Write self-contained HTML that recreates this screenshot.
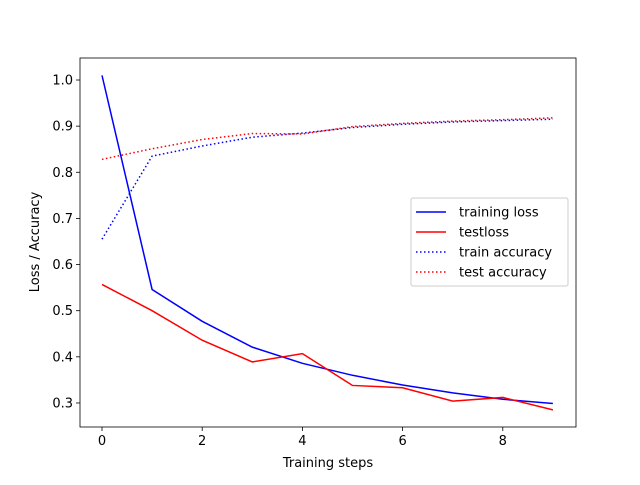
<!DOCTYPE html>
<html><head><meta charset="utf-8"><style>
body{margin:0;background:#fff;}
svg text{font-family:"DejaVu Sans","Liberation Sans",sans-serif;font-size:13px;fill:#000;}
</style></head><body>
<svg id="chart" width="640" height="480" xmlns="http://www.w3.org/2000/svg">
<rect width="640" height="480" fill="#fff"/>
<g id="plot"></g>
</svg>
<script>
const steps=[0,1,2,3,4,5,6,7,8,9];
const trainLoss=[1.01,0.546,0.477,0.421,0.386,0.36,0.339,0.322,0.308,0.299];
const testLoss=[0.557,0.50,0.436,0.389,0.407,0.338,0.333,0.304,0.312,0.285];
const trainAcc=[0.655,0.835,0.857,0.876,0.885,0.897,0.904,0.909,0.912,0.915];
const testAcc=[0.828,0.851,0.871,0.884,0.883,0.899,0.906,0.911,0.914,0.918];
const xTicks=[0,2,4,6,8];
const yTicks=[0.3,0.4,0.5,0.6,0.7,0.8,0.9,1.0];
const seriesNames=["training loss","testloss","train accuracy","test accuracy"];

const NS="http://www.w3.org/2000/svg";
const g=document.getElementById('plot');
const L=80,R=576,T=58,B=427;
function xs(v){return 102+v*50.1;}
function ys(v){return 80+(1.0-v)*461.4;}
function el(tag,attrs,parent){const e=document.createElementNS(NS,tag);for(const k in attrs)e.setAttribute(k,attrs[k]);(parent||g).appendChild(e);return e;}

xTicks.forEach(t=>{
  const tk=el('line',{x1:xs(t),x2:xs(t),y1:B,y2:B+4,stroke:'#000','stroke-width':0.8});
  
  
  const tx=el('text',{x:xs(t),y:B+18,'text-anchor':'middle'});
  tx.textContent=t;
  
  
});
yTicks.forEach(t=>{
  const tk=el('line',{x1:L-4,x2:L,y1:ys(t),y2:ys(t),stroke:'#000','stroke-width':0.8});
  
  
  const tx=el('text',{x:L-7,y:ys(t)+4.5,'text-anchor':'end'});
  tx.textContent=t.toFixed(1);
  
  
});

const series=[[trainLoss,'#0000ff',''],[testLoss,'#ff0000',''],[trainAcc,'#0000ff','1.5,2.5'],[testAcc,'#ff0000','1.5,2.5']];
series.forEach((s,i)=>{
  const p=el('polyline',{points:steps.map((x,j)=>xs(x)+','+ys(s[0][j])).join(' '),fill:'none',stroke:s[1],'stroke-width':1.5,'stroke-dasharray':s[2]});
  
  
});

const frame=el('rect',{x:L,y:T,width:R-L,height:B-T,fill:'none',stroke:'#000','stroke-width':0.8});



const xt=el('text',{x:328,y:467,'text-anchor':'middle'});xt.textContent='Training steps';


const yt=el('text',{x:0,y:0,'text-anchor':'middle',transform:'translate(39,242) rotate(-90)'});yt.textContent='Loss / Accuracy';



const lg=el('g',{});


el('rect',{x:411,y:198,width:157,height:88,rx:2,fill:'#fff','fill-opacity':0.8,stroke:'#ccc','stroke-width':1},lg);
series.forEach((s,i)=>{
  const y=212+i*20;
  const e=el('g',{},lg);
  
  
  el('line',{x1:416,x2:446,y1:y,y2:y,stroke:s[1],'stroke-width':1.5,'stroke-dasharray':s[2]},e);
  const t=el('text',{x:459,y:y+4.5},e);t.textContent=seriesNames[i];
});
</script>
</body></html>
